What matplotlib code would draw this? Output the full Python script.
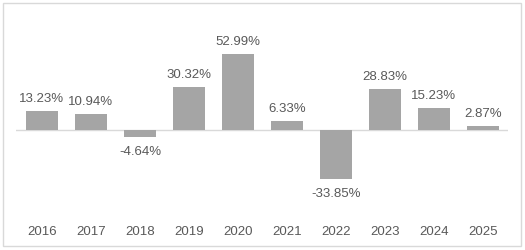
import matplotlib.pyplot as plt
from matplotlib.patches import Rectangle

years = ["2016", "2017", "2018", "2019", "2020", "2021", "2022", "2023", "2024", "2025"]
returns = [13.23, 10.94, -4.64, 30.32, 52.99, 6.33, -33.85, 28.83, 15.23, 2.87]

TEXT = "#595959"
BAR = "#A5A5A5"
LINE = "#D9D9D9"

plt.rcParams['font.family'] = ['Liberation Sans', 'DejaVu Sans']

fig = plt.figure(figsize=(5.25, 2.51), dpi=100)
ax = fig.add_axes([16 / 525, 1 - 210 / 251, 492 / 525, 190 / 251])

x = list(range(len(years)))
ax.bar(x, returns, width=0.65, color=BAR, zorder=2)
ax.axhline(0, color=LINE, linewidth=1, zorder=1)

for i, v in enumerate(returns):
    off = 13 if v >= 0 else -14.5
    ax.annotate(f"{v:.2f}%", (i, v), xytext=(0, off), textcoords="offset pixels",
                ha="center", va="center", fontsize=9.5, color=TEXT)

for i, y in enumerate(years):
    ax.text(i, -22 / 190, y, transform=ax.get_xaxis_transform(),
            ha="center", va="center", fontsize=9.5, color=TEXT)

ax.set_xlim(-0.53, 9.51)
ax.set_ylim(-(210 - 131) / 1.434, (131 - 20) / 1.434)
ax.axis("off")

fig.patches.append(Rectangle((3 / 525, 4 / 251), 518 / 525, 243 / 251,
                             transform=fig.transFigure, fill=False,
                             edgecolor=LINE, linewidth=1))

fig.savefig("out.png", dpi=100)
